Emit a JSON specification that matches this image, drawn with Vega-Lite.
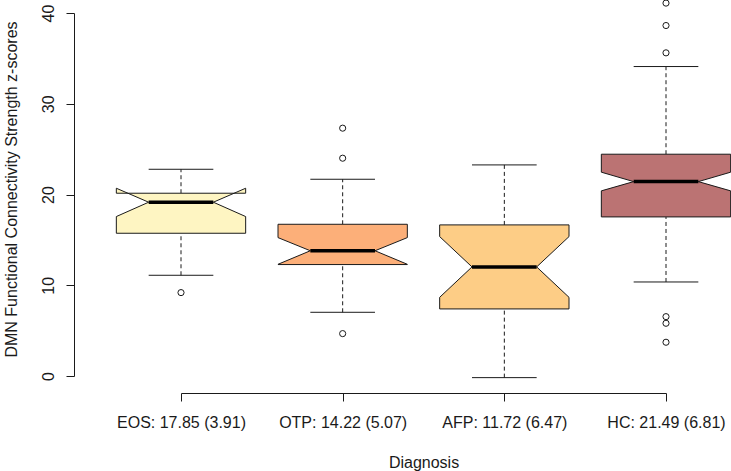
{
  "$schema": "https://vega.github.io/schema/vega-lite/v6.json",
  "width": 485,
  "height": 363,
  "autosize": {"type": "none"},
  "padding": {"left": 181, "right": 65, "top": 13, "bottom": 95},
  "background": "white",
  "config": {"view": {"stroke": null}, "font": "Liberation Sans"},
  "datasets": {
    "stats": [
      {"g": "EOS", "pos": 1, "lo": 11.10, "q1": 15.73, "nlo": 17.57, "med": 19.15, "nhi": 20.69, "q3": 20.14, "hi": 22.78},
      {"g": "OTP", "pos": 2, "lo": 7.02, "q1": 12.28, "nlo": 12.31, "med": 13.80, "nhi": 15.25, "q3": 16.72, "hi": 21.68},
      {"g": "AFP", "pos": 3, "lo": -0.18, "q1": 7.39, "nlo": 8.67, "med": 12.02, "nhi": 15.36, "q3": 16.65, "hi": 23.26},
      {"g": "HC", "pos": 4, "lo": 10.36, "q1": 17.53, "nlo": 20.40, "med": 21.42, "nhi": 22.46, "q3": 24.44, "hi": 34.10}
    ],
    "out": [
      {"g": "EOS", "pos": 1, "v": 9.19},
      {"g": "OTP", "pos": 2, "v": 27.31},
      {"g": "OTP", "pos": 2, "v": 24.0},
      {"g": "OTP", "pos": 2, "v": 4.67},
      {"g": "HC", "pos": 4, "v": 41.09},
      {"g": "HC", "pos": 4, "v": 38.62},
      {"g": "HC", "pos": 4, "v": 35.61},
      {"g": "HC", "pos": 4, "v": 6.54},
      {"g": "HC", "pos": 4, "v": 5.81},
      {"g": "HC", "pos": 4, "v": 3.72}
    ]
  },
  "layer": [
    {
      "data": {"name": "stats"},
      "mark": {"type": "rule", "color": "#1a1a1a", "strokeWidth": 1, "strokeDash": [4, 3]},
      "encoding": {
        "x": {
          "field": "pos", "type": "quantitative",
          "scale": {"domain": [1, 4], "nice": false, "zero": false},
          "axis": {
            "values": [1, 2, 3, 4],
            "labelExpr": "['', 'EOS: 17.85 (3.91)', 'OTP: 14.22 (5.07)', 'AFP: 11.72 (6.47)', 'HC: 21.49 (6.81)'][datum.value]",
            "grid": false, "offset": 17, "tickSize": 8,
            "domainColor": "#1a1a1a", "tickColor": "#1a1a1a", "domainWidth": 1, "tickWidth": 1,
            "labelFlush": false, "labelOverlap": false, "labelBound": false,
            "labelFont": "Liberation Sans", "labelFontSize": 16, "labelColor": "#1a1a1a",
            "labelBaseline": "alphabetic", "labelPadding": 26,
            "title": "Diagnosis", "titleFont": "Liberation Sans", "titleFontSize": 16,
            "titleFontWeight": "normal", "titleColor": "#1a1a1a",
            "titleBaseline": "alphabetic", "titleY": 74
          }
        },
        "y": {
          "field": "q3", "type": "quantitative",
          "scale": {"domain": [0, 40], "nice": false, "zero": false},
          "axis": {
            "values": [0, 10, 20, 30, 40],
            "grid": false, "offset": 107, "tickSize": 8,
            "domainColor": "#1a1a1a", "tickColor": "#1a1a1a", "domainWidth": 1, "tickWidth": 1,
            "labelAngle": -90, "labelAlign": "center", "labelBaseline": "alphabetic", "labelPadding": 13,
            "labelFont": "Liberation Sans", "labelFontSize": 16, "labelColor": "#1a1a1a",
            "labelFlush": false, "labelOverlap": false, "labelBound": false,
            "title": "DMN Functional Connectivity Strength z-scores",
            "titleFont": "Liberation Sans", "titleFontSize": 16, "titleFontWeight": "normal", "titleColor": "#1a1a1a",
            "titleAngle": -90, "titleBaseline": "alphabetic", "titleAlign": "center",
            "titleX": -58, "titleY": 176
          }
        },
        "y2": {"field": "hi"}
      }
    },
    {
      "data": {"name": "stats"},
      "mark": {"type": "rule", "color": "#1a1a1a", "strokeWidth": 1, "strokeDash": [4, 3]},
      "encoding": {
        "x": {"field": "pos", "type": "quantitative"},
        "y": {"field": "lo", "type": "quantitative"},
        "y2": {"field": "q1"}
      }
    },
    {
      "data": {"name": "stats"},
      "transform": [
        {"fold": ["lo", "hi"], "as": ["k", "v"]},
        {"calculate": "datum.pos - 0.2", "as": "s1"},
        {"calculate": "datum.pos + 0.2", "as": "s2"}
      ],
      "mark": {"type": "rule", "color": "#1a1a1a", "strokeWidth": 1},
      "encoding": {
        "x": {"field": "s1", "type": "quantitative"},
        "x2": {"field": "s2"},
        "y": {"field": "v", "type": "quantitative"}
      }
    },
    {
      "data": {"name": "stats"},
      "transform": [
        {"calculate": "datum.pos", "as": "L"},
        {"calculate": "datum.pos", "as": "R"},
        {"fold": ["L", "R"], "as": ["side", "c"]},
        {"fold": ["q1", "nlo", "med", "nhi", "q3"], "as": ["k", "v"]},
        {"calculate": "indexof(['q1','nlo','med','nhi','q3'], datum.k)", "as": "idx"},
        {"calculate": "datum.k == 'med' ? 0.2 : 0.4", "as": "hw"},
        {"calculate": "datum.side == 'L' ? datum.c - datum.hw : datum.c + datum.hw", "as": "cx"},
        {"calculate": "datum.side == 'L' ? datum.idx : 9 - datum.idx", "as": "ord"}
      ],
      "mark": {"type": "line", "stroke": "#1a1a1a", "strokeWidth": 1},
      "encoding": {
        "x": {"field": "cx", "type": "quantitative"},
        "y": {"field": "v", "type": "quantitative"},
        "order": {"field": "ord", "type": "quantitative"},
        "fill": {
          "field": "g", "type": "nominal", "legend": null,
          "scale": {"domain": ["EOS", "OTP", "AFP", "HC"], "range": ["#FEF5C2", "#FCAF79", "#FDCD86", "#BB7373"]}
        },
        "detail": {"field": "g"}
      }
    },
    {
      "data": {"name": "stats"},
      "transform": [
        {"calculate": "datum.pos - 0.4", "as": "b1"},
        {"calculate": "datum.pos + 0.4", "as": "b2"}
      ],
      "mark": {"type": "rule", "color": "#1a1a1a", "strokeWidth": 1},
      "encoding": {
        "x": {"field": "b1", "type": "quantitative"},
        "x2": {"field": "b2"},
        "y": {"field": "q1", "type": "quantitative"}
      }
    },
    {
      "data": {"name": "stats"},
      "transform": [
        {"calculate": "datum.pos - 0.2", "as": "m1"},
        {"calculate": "datum.pos + 0.2", "as": "m2"}
      ],
      "mark": {"type": "rule", "color": "#000000", "strokeWidth": 3.5},
      "encoding": {
        "x": {"field": "m1", "type": "quantitative"},
        "x2": {"field": "m2"},
        "y": {"field": "med", "type": "quantitative"}
      }
    },
    {
      "data": {"name": "out"},
      "mark": {"type": "point", "shape": "circle", "filled": false, "color": "#1a1a1a", "size": 38, "strokeWidth": 1, "opacity": 1},
      "encoding": {
        "x": {"field": "pos", "type": "quantitative"},
        "y": {"field": "v", "type": "quantitative"}
      }
    }
  ]
}
